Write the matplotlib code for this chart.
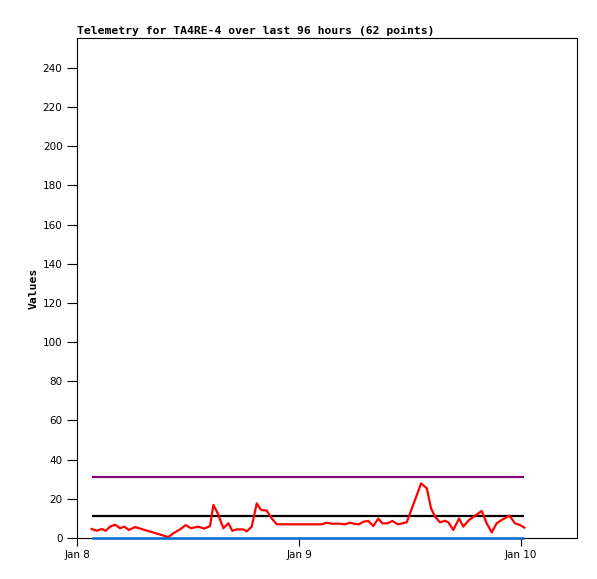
import matplotlib.dates as mdates
import matplotlib.pyplot as plt
import numpy as np
import pandas as pd

# hours after Jan 8 00:00 and the telemetry values
hours = [1.59, 2.13, 2.67, 3.10, 3.57, 4.11, 4.65, 5.11, 5.62, 6.27,
         9.87, 10.41, 11.14, 11.75, 12.32, 13.11, 13.76, 14.38, 14.74, 15.21,
         15.82, 16.36, 16.79, 17.27, 17.98, 18.35, 18.89, 19.43, 19.89, 20.51,
         21.05, 21.59, 26.45, 26.99, 27.54, 28.43, 28.97, 29.51, 30.05, 30.49,
         30.95, 31.49, 32.03, 32.57, 33.01, 33.59, 34.09, 34.67, 35.17, 35.64,
         36.00, 36.54, 37.19, 37.81, 38.27, 38.70, 39.24, 39.78, 40.14, 40.68,
         41.30, 41.76, 42.38, 43.03, 43.75, 44.29, 44.83, 45.37, 45.91, 46.74,
         47.35, 47.89, 48.36]
values = [4.6, 3.7, 4.6, 3.7, 5.8, 6.8, 5.0, 5.8, 4.1, 5.6,
          0.5, 2.4, 4.4, 6.6, 5.0, 5.8, 4.8, 6.1, 16.9, 12.6,
          5.0, 7.5, 3.7, 4.4, 4.4, 3.4, 5.8, 17.7, 14.3, 14.0,
          10.0, 7.0, 7.0, 7.8, 7.3, 7.3, 7.0, 7.8, 7.2, 7.0,
          8.3, 8.7, 6.1, 9.9, 7.5, 7.5, 8.7, 7.0, 7.5, 8.0,
          12.6, 19.4, 27.9, 25.4, 15.2, 10.9, 8.0, 8.8, 8.0, 4.1,
          10.0, 5.8, 9.2, 11.4, 13.8, 7.5, 2.9, 7.5, 9.2, 11.4,
          7.5, 6.6, 5.3]

# reference levels
upper_level = 31
mid_level = 11
low_level = 0

start = pd.Timestamp("2024-01-08")
times = start + pd.to_timedelta(hours, unit="h")

fig = plt.figure(figsize=(5.97, 5.79), dpi=100)
ax = fig.add_axes([77 / 597, 41 / 579, 500 / 597, 500 / 579])

ax.hlines(upper_level, times[0], times[-1], color="#800080", lw=1.6)
ax.hlines(mid_level, times[0], times[-1], color="black", lw=1.6)
ax.hlines(low_level, times[0], times[-1], color="#0066cc", lw=1.8, zorder=5,
          clip_on=False)
ax.plot(times, values, color="red", lw=1.6, zorder=4)

ax.set_xlim(start, start + pd.Timedelta(hours=54.05))
ax.set_ylim(0, 255.3)
ax.set_yticks(np.arange(0, 241, 20))
ax.xaxis.set_major_locator(mdates.DayLocator())
ax.xaxis.set_major_formatter(mdates.DateFormatter("%b %-d"))

ax.tick_params(axis="y", direction="out", length=7.5, width=0.8, pad=3, labelsize=7.5)
ax.tick_params(axis="x", direction="out", length=6, width=0.8, pad=3, labelsize=7.5)
for s in ax.spines.values():
    s.set_linewidth(0.8)

ax.set_title("Telemetry for TA4RE-4 over last 96 hours (62 points)", loc="left",
             fontsize=8.2, fontweight="bold", family="DejaVu Sans Mono", pad=3)
ax.set_ylabel("Values", fontsize=8.2, fontweight="bold", family="DejaVu Sans Mono",
              labelpad=3)

fig.savefig("out.png", dpi=100)
